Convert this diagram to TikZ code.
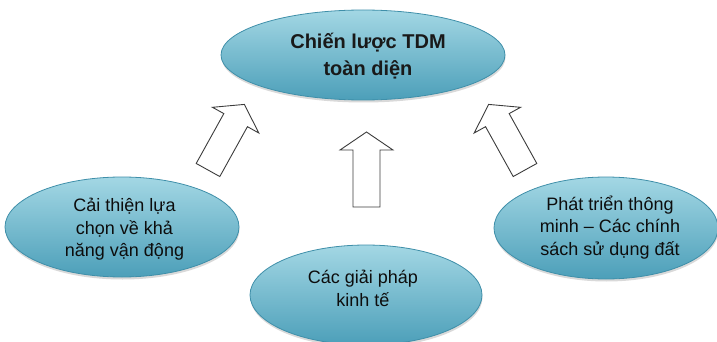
\documentclass[tikz,border=0pt]{standalone}
\usepackage{fontspec}
\setmainfont{Liberation Sans}
\usetikzlibrary{shapes.geometric,shadows}
\definecolor{bubbleTop}{HTML}{A3D7E4}
\definecolor{bubbleMid}{HTML}{86C7D9}
\definecolor{bubbleLow}{HTML}{4C9FB9}
\definecolor{bubbleRim}{HTML}{3F8FA9}
\definecolor{arrowLine}{HTML}{3C3C3C}
\tikzset{
  bubble/.style={ellipse, inner sep=0pt, top color=bubbleTop, middle color=bubbleMid,
    bottom color=bubbleLow, draw=bubbleRim, line width=0.8pt,
    drop shadow={shadow xshift=0.5pt, shadow yshift=-2.5pt, opacity=0.25, fill=black!60}},
  maintext/.style={align=center, font=\fontsize{20}{27}\selectfont\bfseries, text=black!90},
  subtext/.style={align=center, font=\fontsize{18}{22.5}\selectfont, text=black!95},
  blockarrow/.style={draw=arrowLine, fill=white, line width=0.9pt, line join=miter}
}
\begin{document}
\begin{tikzpicture}[x=1pt,y=-1pt]
  \useasboundingbox (0,0) rectangle (717,342);
  \clip (0,0) rectangle (717,342);

  % the four ellipses
  \node[bubble, minimum width=284pt, minimum height=90pt] (goal) at (363,55) {};
  \node[bubble, minimum width=234pt, minimum height=100pt] (mobility) at (122,227) {};
  \node[bubble, minimum width=224pt, minimum height=102pt] (landuse) at (606,228) {};
  \node[bubble, minimum width=232pt, minimum height=100pt] (economy) at (366,295) {};

  % their captions
  \node[maintext] (goalText) at (368,56.5) {Chiến lược TDM\\toàn diện};
  \node[subtext] (mobilityText) at (124.5,229.5) {Cải thiện lựa\\chọn về khả\\năng vận động};
  \node[subtext] (landuseText) at (610,227.5) {Phát triển thông\\minh – Các chính\\sách sử dụng đất};
  \node[subtext] (economyText) at (363,288.5) {Các giải pháp\\kinh tế};

  % hollow block arrows pointing towards the central strategy
  \foreach \name/\px/\py/\ang in {arrowLeft/208/170/-29, arrowMid/366.5/207/0, arrowRight/525/170/29}{
    \draw[blockarrow, shift={(\px,\py)}, rotate=\ang]
      (-13.5,0) -- (-13.5,-57) -- (-26.5,-57) -- (0,-75) -- (26.5,-57)
      -- (13.5,-57) -- (13.5,0) -- cycle;
    \coordinate (\name) at (\px,\py);
  }
\end{tikzpicture}
\end{document}
